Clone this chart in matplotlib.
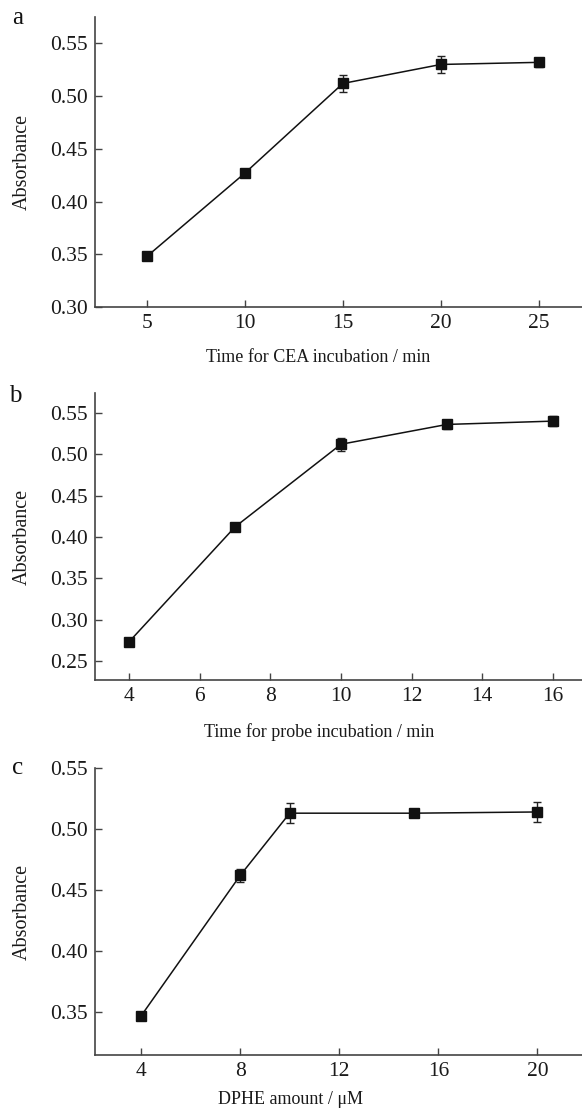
import numpy as np
import matplotlib.pyplot as plt

plt.rcParams['font.family'] = ['Liberation Serif', 'DejaVu Serif']

# panel a: CEA incubation time
time_cea = [5, 10, 15, 20, 25]
abs_cea = [0.348, 0.427, 0.512, 0.530, 0.532]
err_cea = [0.002, 0.002, 0.008, 0.008, 0.004]

# panel b: probe incubation time
time_probe = [4, 7, 10, 13, 16]
abs_probe = [0.273, 0.412, 0.512, 0.536, 0.540]
err_probe = [0.002, 0.002, 0.008, 0.005, 0.006]

# panel c: DPHE amount
dphe = [4, 8, 10, 15, 20]
abs_dphe = [0.347, 0.462, 0.513, 0.513, 0.514]
err_dphe = [0.002, 0.005, 0.008, 0.002, 0.008]

W, H = 582, 1117
fig = plt.figure(figsize=(W / 100, H / 100), dpi=100)

panels = [
    dict(x=time_cea, y=abs_cea, e=err_cea, box=(95, 17, 307), xlim=(2.35, 27.2),
         ylim=(0.30, 0.575), xticks=[5, 10, 15, 20, 25],
         yticks=[0.30, 0.35, 0.40, 0.45, 0.50, 0.55],
         xlabel='Time for CEA incubation / min', xl=(318, 358), letter=('a', 18, 18)),
    dict(x=time_probe, y=abs_probe, e=err_probe, box=(95, 393, 680), xlim=(3.04, 16.82),
         ylim=(0.227, 0.574), xticks=[4, 6, 8, 10, 12, 14, 16],
         yticks=[0.25, 0.30, 0.35, 0.40, 0.45, 0.50, 0.55],
         xlabel='Time for probe incubation / min', xl=(319, 732), letter=('b', 15, 396)),
    dict(x=dphe, y=abs_dphe, e=err_dphe, box=(95, 768, 1055), xlim=(2.14, 21.8),
         ylim=(0.315, 0.55), xticks=[4, 8, 12, 16, 20],
         yticks=[0.35, 0.40, 0.45, 0.50, 0.55],
         xlabel='DPHE amount / \u03bcM', xl=(291, 1100), letter=('c', 18, 768)),
]

for p in panels:
    left, top, bottom = p['box']
    ax = fig.add_axes([left / W, 1 - bottom / H, 1 - left / W, (bottom - top) / H])
    ax.errorbar(p['x'], p['y'], yerr=p['e'], color='#111111', lw=1.1,
                marker='s', ms=6.5, mfc='#111111', mec='#111111',
                ecolor='#222222', elinewidth=1.0, capsize=3, capthick=1.0)
    ax.set_xlim(p['xlim'])
    ax.set_ylim(p['ylim'])
    ax.set_xticks(p['xticks'])
    ax.set_yticks(p['yticks'])
    ax.set_yticklabels([f'{v:.2f}' for v in p['yticks']])
    for s in ['top', 'right']:
        ax.spines[s].set_visible(False)
    for s in ['left', 'bottom']:
        ax.spines[s].set_color('#444444')
        ax.spines[s].set_linewidth(1.2)
    ax.tick_params(direction='in', length=5, width=1.0, color='#444444',
                   labelsize=15.5, pad=5, labelcolor='#1a1a1a')
    ax.set_facecolor('none')
    fig.text(p['xl'][0] / W, 1 - p['xl'][1] / H, p['xlabel'], ha='center', va='center',
             fontsize=13, color='#1a1a1a')
    fig.text(22 / W, 1 - ((top + bottom) / 2) / H, 'Absorbance', rotation=90,
             ha='center', va='center', fontsize=14.5, color='#1a1a1a')
    lt, lx, ly = p['letter']
    fig.text(lx / W, 1 - ly / H, lt, ha='center', va='center', fontsize=18, color='#111111')

plt.savefig('out.png', dpi=100)
